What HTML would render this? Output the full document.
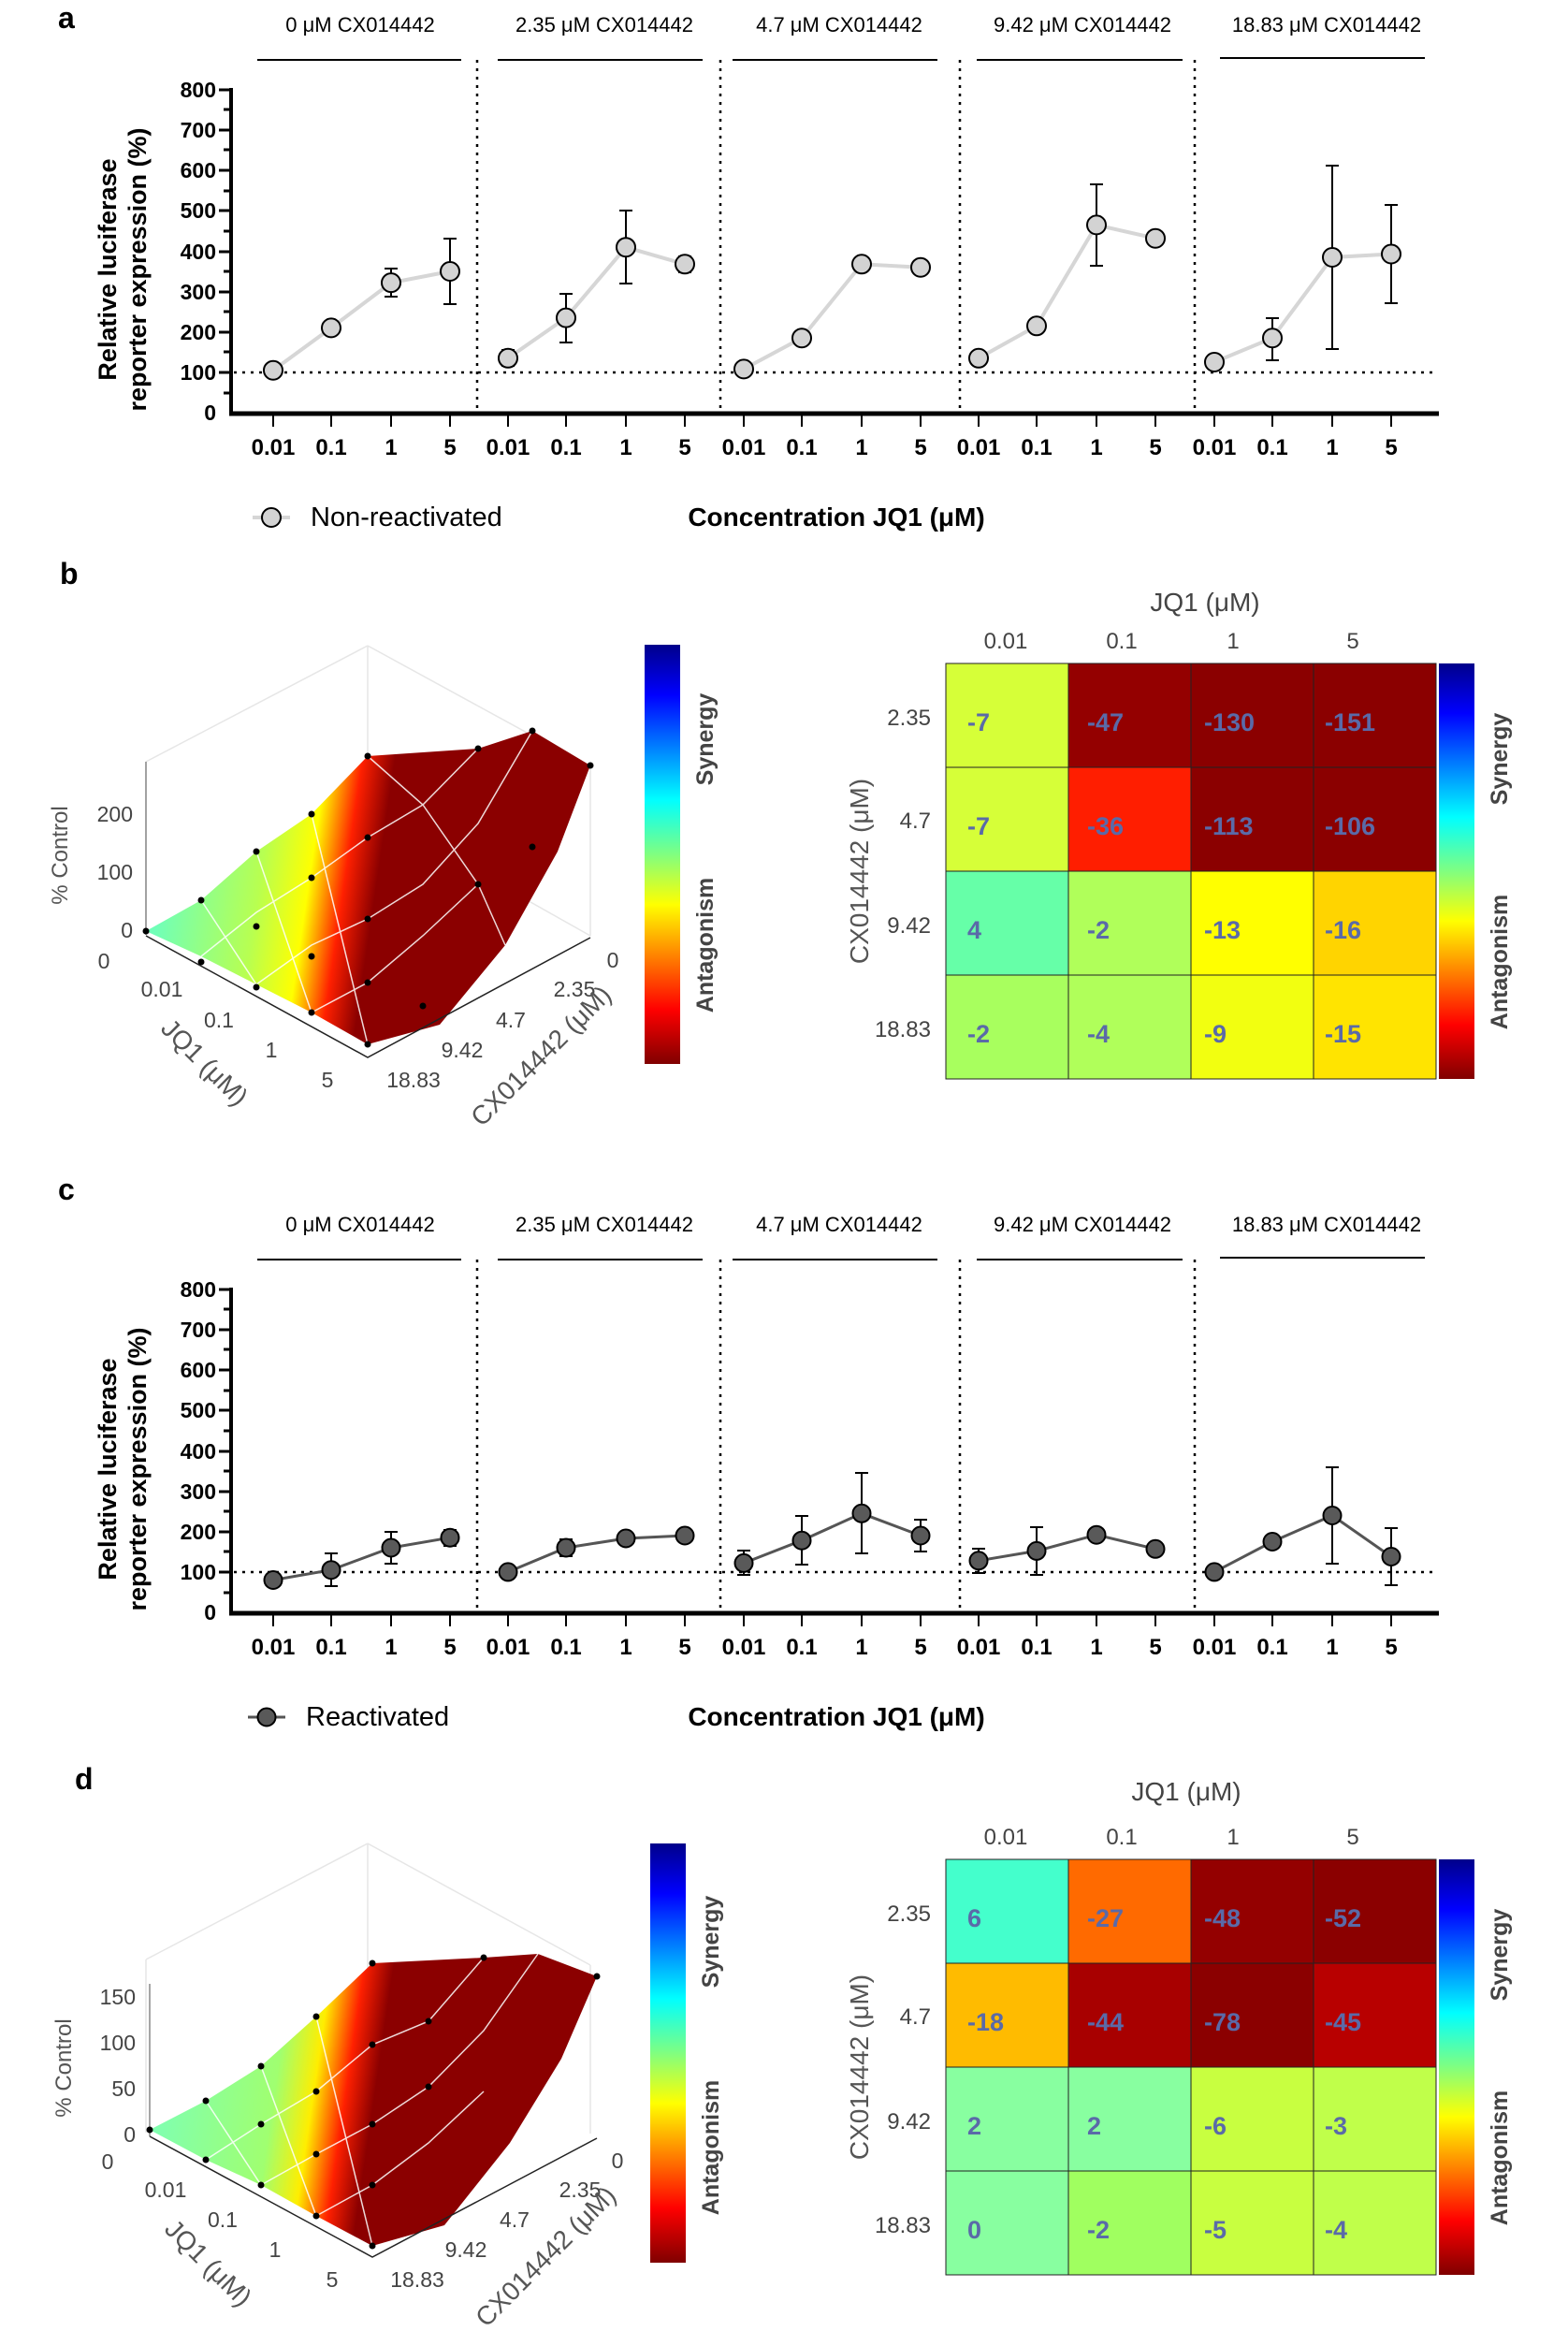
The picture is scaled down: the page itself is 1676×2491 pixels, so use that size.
<!DOCTYPE html>
<html><head><meta charset="utf-8"><style>
html,body{margin:0;padding:0;background:#fff}
svg{display:block}
text{font-family:"Liberation Sans",Arial,sans-serif}
.b{font-weight:bold}
</style></head><body>
<svg width="1676" height="2491" viewBox="0 0 1676 2491" xmlns="http://www.w3.org/2000/svg">
<defs>
<linearGradient id="jet" x1="0" y1="0" x2="0" y2="1">
<stop offset="0" stop-color="#00008b"/><stop offset="0.12" stop-color="#0000ff"/><stop offset="0.37" stop-color="#00ffff"/><stop offset="0.5" stop-color="#80ff80"/><stop offset="0.62" stop-color="#ffff00"/><stop offset="0.87" stop-color="#ff0000"/><stop offset="1" stop-color="#800000"/>
</linearGradient>
<linearGradient id="surfB" gradientUnits="userSpaceOnUse" x1="180" y1="900" x2="520" y2="950">
<stop offset="0" stop-color="#70ffb8"/><stop offset="0.3" stop-color="#b8ff50"/><stop offset="0.45" stop-color="#ffff00"/><stop offset="0.56" stop-color="#ff2000"/><stop offset="0.66" stop-color="#8b0000"/><stop offset="1" stop-color="#8b0000"/>
</linearGradient>
<linearGradient id="surfD" gradientUnits="userSpaceOnUse" x1="180" y1="900" x2="520" y2="950">
<stop offset="0" stop-color="#80ffb0"/><stop offset="0.35" stop-color="#a0ff70"/><stop offset="0.47" stop-color="#ffee00"/><stop offset="0.57" stop-color="#ff2000"/><stop offset="0.66" stop-color="#8b0000"/><stop offset="1" stop-color="#8b0000"/>
</linearGradient>
</defs>

<!-- ========== PANEL a ========== -->
<g id="pa">
<text x="62" y="30" font-size="32" class="b">a</text>
<g font-size="22" text-anchor="middle">
<text x="385" y="34">0 μM CX014442</text><text x="646" y="34">2.35 μM CX014442</text><text x="897" y="34">4.7 μM CX014442</text><text x="1157" y="34">9.42 μM CX014442</text><text x="1418" y="34">18.83 μM CX014442</text>
</g>
<g stroke="#000" stroke-width="2"><line x1="275" y1="64" x2="493" y2="64"/><line x1="532" y1="64" x2="751" y2="64"/><line x1="783" y1="64" x2="1002" y2="64"/><line x1="1044" y1="64" x2="1264" y2="64"/><line x1="1304" y1="62" x2="1523" y2="62"/></g>
<g stroke="#000" stroke-width="2.5" stroke-dasharray="3,6"><line x1="510" y1="64" x2="510" y2="440"/><line x1="770" y1="64" x2="770" y2="440"/><line x1="1026" y1="64" x2="1026" y2="440"/><line x1="1277" y1="64" x2="1277" y2="440"/><line x1="250" y1="398" x2="1536" y2="398"/></g>
<line x1="247" y1="94" x2="247" y2="443" stroke="#000" stroke-width="4"/>
<line x1="245" y1="442" x2="1538" y2="442" stroke="#000" stroke-width="5"/>
<g stroke="#000" stroke-width="3">
<line x1="234" y1="96" x2="247" y2="96"/><line x1="234" y1="139" x2="247" y2="139"/><line x1="234" y1="182" x2="247" y2="182"/><line x1="234" y1="225" x2="247" y2="225"/><line x1="234" y1="269" x2="247" y2="269"/><line x1="234" y1="312" x2="247" y2="312"/><line x1="234" y1="355" x2="247" y2="355"/><line x1="234" y1="398" x2="247" y2="398"/>
<line x1="239" y1="117" x2="247" y2="117"/><line x1="239" y1="160" x2="247" y2="160"/><line x1="239" y1="204" x2="247" y2="204"/><line x1="239" y1="247" x2="247" y2="247"/><line x1="239" y1="290" x2="247" y2="290"/><line x1="239" y1="333" x2="247" y2="333"/><line x1="239" y1="376" x2="247" y2="376"/><line x1="239" y1="420" x2="247" y2="420"/>
</g>
<g font-size="23" class="b" text-anchor="end">
<text x="231" y="104">800</text><text x="231" y="147">700</text><text x="231" y="190">600</text><text x="231" y="233">500</text><text x="231" y="277">400</text><text x="231" y="320">300</text><text x="231" y="363">200</text><text x="231" y="406">100</text><text x="231" y="449">0</text>
</g>
<g font-size="27" class="b" text-anchor="middle">
<text transform="translate(124,288) rotate(-90)">Relative luciferase</text>
<text transform="translate(156,288) rotate(-90)">reporter expression (%)</text>
</g>
<g stroke="#000" stroke-width="2">
<line x1="292" y1="444" x2="292" y2="456"/><line x1="354" y1="444" x2="354" y2="456"/><line x1="418" y1="444" x2="418" y2="456"/><line x1="481" y1="444" x2="481" y2="456"/>
<line x1="543" y1="444" x2="543" y2="456"/><line x1="605" y1="444" x2="605" y2="456"/><line x1="669" y1="444" x2="669" y2="456"/><line x1="732" y1="444" x2="732" y2="456"/>
<line x1="795" y1="444" x2="795" y2="456"/><line x1="857" y1="444" x2="857" y2="456"/><line x1="921" y1="444" x2="921" y2="456"/><line x1="984" y1="444" x2="984" y2="456"/>
<line x1="1046" y1="444" x2="1046" y2="456"/><line x1="1108" y1="444" x2="1108" y2="456"/><line x1="1172" y1="444" x2="1172" y2="456"/><line x1="1235" y1="444" x2="1235" y2="456"/>
<line x1="1298" y1="444" x2="1298" y2="456"/><line x1="1360" y1="444" x2="1360" y2="456"/><line x1="1424" y1="444" x2="1424" y2="456"/><line x1="1487" y1="444" x2="1487" y2="456"/>
</g>
<g font-size="24" class="b" text-anchor="middle">
<text x="292" y="486">0.01</text><text x="354" y="486">0.1</text><text x="418" y="486">1</text><text x="481" y="486">5</text>
<text x="543" y="486">0.01</text><text x="605" y="486">0.1</text><text x="669" y="486">1</text><text x="732" y="486">5</text>
<text x="795" y="486">0.01</text><text x="857" y="486">0.1</text><text x="921" y="486">1</text><text x="984" y="486">5</text>
<text x="1046" y="486">0.01</text><text x="1108" y="486">0.1</text><text x="1172" y="486">1</text><text x="1235" y="486">5</text>
<text x="1298" y="486">0.01</text><text x="1360" y="486">0.1</text><text x="1424" y="486">1</text><text x="1487" y="486">5</text>
</g>
<g fill="none" stroke="#d6d6d6" stroke-width="4">
<polyline points="292,395.7 354,350.4 418,302.1 481,290"/>
<polyline points="543,382.8 605,339.6 669,264.2 732,282.3"/>
<polyline points="795,394.4 857,361.2 921,282.3 984,285.7"/>
<polyline points="1046,382.8 1108,348.3 1172,240.4 1235,254.7"/>
<polyline points="1298,387 1360,361.2 1424,275 1487,271.5"/>
</g>
<g stroke="#000" stroke-width="2">
<path d="M418 317V287M411 317h14M411 287h14"/>
<path d="M481 325V255M474 325h14M474 255h14"/>
<path d="M543 391V374M536 391h14M536 374h14"/>
<path d="M605 366V314M598 366h14M598 314h14"/>
<path d="M669 303V225M662 303h14M662 225h14"/>
<path d="M732 291V274M725 291h14M725 274h14"/>
<path d="M1172 284V197M1165 284h14M1165 197h14"/>
<path d="M1360 385V340M1353 385h14M1353 340h14"/>
<path d="M1424 373V177M1417 373h14M1417 177h14"/>
<path d="M1487 324V219M1480 324h14M1480 219h14"/>
</g>
<g fill="#d3d3d3" stroke="#000" stroke-width="2">
<circle cx="292" cy="395.7" r="10"/><circle cx="354" cy="350.4" r="10"/><circle cx="418" cy="302.1" r="10"/><circle cx="481" cy="290" r="10"/>
<circle cx="543" cy="382.8" r="10"/><circle cx="605" cy="339.6" r="10"/><circle cx="669" cy="264.2" r="10"/><circle cx="732" cy="282.3" r="10"/>
<circle cx="795" cy="394.4" r="10"/><circle cx="857" cy="361.2" r="10"/><circle cx="921" cy="282.3" r="10"/><circle cx="984" cy="285.7" r="10"/>
<circle cx="1046" cy="382.8" r="10"/><circle cx="1108" cy="348.3" r="10"/><circle cx="1172" cy="240.4" r="10"/><circle cx="1235" cy="254.7" r="10"/>
<circle cx="1298" cy="387" r="10"/><circle cx="1360" cy="361.2" r="10"/><circle cx="1424" cy="275" r="10"/><circle cx="1487" cy="271.5" r="10"/>
</g>
<line x1="270" y1="553" x2="310" y2="553" stroke="#d6d6d6" stroke-width="4"/>
<circle cx="290" cy="553" r="10" fill="#d3d3d3" stroke="#000" stroke-width="2"/>
<text x="332" y="562" font-size="29">Non-reactivated</text>
<text x="894" y="562" font-size="28" class="b" text-anchor="middle">Concentration JQ1 (μM)</text>
</g>

<!-- ========== PANEL c ========== -->
<g transform="translate(0,1282)">
<text x="62" y="0" font-size="32" class="b">c</text>
<g font-size="22" text-anchor="middle">
<text x="385" y="34">0 μM CX014442</text><text x="646" y="34">2.35 μM CX014442</text><text x="897" y="34">4.7 μM CX014442</text><text x="1157" y="34">9.42 μM CX014442</text><text x="1418" y="34">18.83 μM CX014442</text>
</g>
<g stroke="#000" stroke-width="2"><line x1="275" y1="64" x2="493" y2="64"/><line x1="532" y1="64" x2="751" y2="64"/><line x1="783" y1="64" x2="1002" y2="64"/><line x1="1044" y1="64" x2="1264" y2="64"/><line x1="1304" y1="62" x2="1523" y2="62"/></g>
<g stroke="#000" stroke-width="2.5" stroke-dasharray="3,6"><line x1="510" y1="64" x2="510" y2="440"/><line x1="770" y1="64" x2="770" y2="440"/><line x1="1026" y1="64" x2="1026" y2="440"/><line x1="1277" y1="64" x2="1277" y2="440"/><line x1="250" y1="398" x2="1536" y2="398"/></g>
<line x1="247" y1="94" x2="247" y2="443" stroke="#000" stroke-width="4"/>
<line x1="245" y1="442" x2="1538" y2="442" stroke="#000" stroke-width="5"/>
<g stroke="#000" stroke-width="3">
<line x1="234" y1="96" x2="247" y2="96"/><line x1="234" y1="139" x2="247" y2="139"/><line x1="234" y1="182" x2="247" y2="182"/><line x1="234" y1="225" x2="247" y2="225"/><line x1="234" y1="269" x2="247" y2="269"/><line x1="234" y1="312" x2="247" y2="312"/><line x1="234" y1="355" x2="247" y2="355"/><line x1="234" y1="398" x2="247" y2="398"/>
<line x1="239" y1="117" x2="247" y2="117"/><line x1="239" y1="160" x2="247" y2="160"/><line x1="239" y1="204" x2="247" y2="204"/><line x1="239" y1="247" x2="247" y2="247"/><line x1="239" y1="290" x2="247" y2="290"/><line x1="239" y1="333" x2="247" y2="333"/><line x1="239" y1="376" x2="247" y2="376"/><line x1="239" y1="420" x2="247" y2="420"/>
</g>
<g font-size="23" class="b" text-anchor="end">
<text x="231" y="104">800</text><text x="231" y="147">700</text><text x="231" y="190">600</text><text x="231" y="233">500</text><text x="231" y="277">400</text><text x="231" y="320">300</text><text x="231" y="363">200</text><text x="231" y="406">100</text><text x="231" y="449">0</text>
</g>
<g font-size="27" class="b" text-anchor="middle">
<text transform="translate(124,288) rotate(-90)">Relative luciferase</text>
<text transform="translate(156,288) rotate(-90)">reporter expression (%)</text>
</g>
<g stroke="#000" stroke-width="2">
<line x1="292" y1="444" x2="292" y2="456"/><line x1="354" y1="444" x2="354" y2="456"/><line x1="418" y1="444" x2="418" y2="456"/><line x1="481" y1="444" x2="481" y2="456"/>
<line x1="543" y1="444" x2="543" y2="456"/><line x1="605" y1="444" x2="605" y2="456"/><line x1="669" y1="444" x2="669" y2="456"/><line x1="732" y1="444" x2="732" y2="456"/>
<line x1="795" y1="444" x2="795" y2="456"/><line x1="857" y1="444" x2="857" y2="456"/><line x1="921" y1="444" x2="921" y2="456"/><line x1="984" y1="444" x2="984" y2="456"/>
<line x1="1046" y1="444" x2="1046" y2="456"/><line x1="1108" y1="444" x2="1108" y2="456"/><line x1="1172" y1="444" x2="1172" y2="456"/><line x1="1235" y1="444" x2="1235" y2="456"/>
<line x1="1298" y1="444" x2="1298" y2="456"/><line x1="1360" y1="444" x2="1360" y2="456"/><line x1="1424" y1="444" x2="1424" y2="456"/><line x1="1487" y1="444" x2="1487" y2="456"/>
</g>
<g font-size="24" class="b" text-anchor="middle">
<text x="292" y="486">0.01</text><text x="354" y="486">0.1</text><text x="418" y="486">1</text><text x="481" y="486">5</text>
<text x="543" y="486">0.01</text><text x="605" y="486">0.1</text><text x="669" y="486">1</text><text x="732" y="486">5</text>
<text x="795" y="486">0.01</text><text x="857" y="486">0.1</text><text x="921" y="486">1</text><text x="984" y="486">5</text>
<text x="1046" y="486">0.01</text><text x="1108" y="486">0.1</text><text x="1172" y="486">1</text><text x="1235" y="486">5</text>
<text x="1298" y="486">0.01</text><text x="1360" y="486">0.1</text><text x="1424" y="486">1</text><text x="1487" y="486">5</text>
</g>
<g fill="none" stroke="#555" stroke-width="3">
<polyline points="292,406.5 354,395.7 418,372 481,361.2"/>
<polyline points="543,397.9 605,372 669,362 732,359"/>
<polyline points="795,388.4 857,364.2 921,335.3 984,359"/>
<polyline points="1046,385.8 1108,375.4 1172,358.2 1235,373.3"/>
<polyline points="1298,397.9 1360,365.5 1424,337.5 1487,381.5"/>
</g>
<g stroke="#000" stroke-width="2">
<path d="M354 413V378M347 413h14M347 378h14"/>
<path d="M418 389V355M411 389h14M411 355h14"/>
<path d="M481 370V353M474 370h14M474 353h14"/>
<path d="M605 381V363M598 381h14M598 363h14"/>
<path d="M795 401V375M788 401h14M788 375h14"/>
<path d="M857 390V338M850 390h14M850 338h14"/>
<path d="M921 378V292M914 378h14M914 292h14"/>
<path d="M984 376V342M977 376h14M977 342h14"/>
<path d="M1046 399V373M1039 399h14M1039 373h14"/>
<path d="M1108 401V350M1101 401h14M1101 350h14"/>
<path d="M1424 389V286M1417 389h14M1417 286h14"/>
<path d="M1487 412V351M1480 412h14M1480 351h14"/>
</g>
<g fill="#595959" stroke="#000" stroke-width="2">
<circle cx="292" cy="406.5" r="9.5"/><circle cx="354" cy="395.7" r="9.5"/><circle cx="418" cy="372" r="9.5"/><circle cx="481" cy="361.2" r="9.5"/>
<circle cx="543" cy="397.9" r="9.5"/><circle cx="605" cy="372" r="9.5"/><circle cx="669" cy="362" r="9.5"/><circle cx="732" cy="359" r="9.5"/>
<circle cx="795" cy="388.4" r="9.5"/><circle cx="857" cy="364.2" r="9.5"/><circle cx="921" cy="335.3" r="9.5"/><circle cx="984" cy="359" r="9.5"/>
<circle cx="1046" cy="385.8" r="9.5"/><circle cx="1108" cy="375.4" r="9.5"/><circle cx="1172" cy="358.2" r="9.5"/><circle cx="1235" cy="373.3" r="9.5"/>
<circle cx="1298" cy="397.9" r="9.5"/><circle cx="1360" cy="365.5" r="9.5"/><circle cx="1424" cy="337.5" r="9.5"/><circle cx="1487" cy="381.5" r="9.5"/>
</g>
<line x1="265" y1="553" x2="305" y2="553" stroke="#555" stroke-width="3"/>
<circle cx="285" cy="553" r="9.5" fill="#595959" stroke="#000" stroke-width="2"/>
<text x="327" y="562" font-size="29">Reactivated</text>
<text x="894" y="562" font-size="28" class="b" text-anchor="middle">Concentration JQ1 (μM)</text>
</g>

<!-- ========== PANEL b ========== -->
<g id="pb">
<text x="64" y="624" font-size="32" class="b">b</text>
<g stroke="#e6e6e6" stroke-width="1.5" fill="none">
<line x1="156" y1="999" x2="156" y2="814"/><line x1="393" y1="866" x2="393" y2="690"/><line x1="631" y1="1000" x2="631" y2="820"/>
<line x1="156" y1="814" x2="393" y2="690"/><line x1="393" y1="690" x2="631" y2="820"/>
<line x1="156" y1="999" x2="393" y2="866"/><line x1="393" y1="866" x2="631" y2="1000"/>
</g>
<line x1="156" y1="999" x2="156" y2="814" stroke="#888" stroke-width="1.5"/>
<polygon points="156,995 215,962 274,910 333,870 393,808 511,800 569,781 631,818 596,910 540,1010 470,1095 393,1116 333,1082 274,1052 215,1022" fill="url(#surfB)"/>
<g stroke="#fff" stroke-width="1.5" fill="none" opacity="0.85">
<polyline points="215,1022 274,975 333,938 393,895 452,860 511,800"/>
<polyline points="274,1052 333,1010 393,982 452,945 511,880 569,781"/>
<polyline points="333,1082 393,1050 452,1000 511,945"/>
<polyline points="215,962 274,1052"/><polyline points="274,910 333,1082"/><polyline points="333,870 393,1116"/>
<polyline points="393,808 452,860 511,945 540,1010"/>
</g>
<g fill="#000">
<circle cx="156" cy="995" r="3.5"/><circle cx="215" cy="962" r="3.5"/><circle cx="274" cy="910" r="3.5"/><circle cx="333" cy="870" r="3.5"/><circle cx="393" cy="808" r="3.5"/>
<circle cx="511" cy="800" r="3.5"/><circle cx="569" cy="781" r="3.5"/><circle cx="631" cy="818" r="3.5"/><circle cx="569" cy="905" r="3.5"/><circle cx="511" cy="945" r="3.5"/>
<circle cx="215" cy="1028" r="3.5"/><circle cx="274" cy="1055" r="3.5"/><circle cx="333" cy="1082" r="3.5"/><circle cx="393" cy="1116" r="3.5"/>
<circle cx="274" cy="990" r="3.5"/><circle cx="333" cy="938" r="3.5"/><circle cx="393" cy="895" r="3.5"/><circle cx="333" cy="1022" r="3.5"/><circle cx="393" cy="982" r="3.5"/><circle cx="393" cy="1050" r="3.5"/><circle cx="452" cy="1075" r="3.5"/>
</g>
<g stroke="#222" stroke-width="1.5" fill="none"><polyline points="156,1000 393,1130 631,1002"/></g>
<g font-size="23" fill="#444">
<text x="142" y="878" text-anchor="end">200</text><text x="142" y="940" text-anchor="end">100</text><text x="142" y="1002" text-anchor="end">0</text>
<text x="111" y="1035" text-anchor="middle">0</text><text x="173" y="1065" text-anchor="middle">0.01</text><text x="234" y="1098" text-anchor="middle">0.1</text><text x="290" y="1130" text-anchor="middle">1</text><text x="350" y="1162" text-anchor="middle">5</text>
<text x="655" y="1034" text-anchor="middle">0</text><text x="614" y="1065" text-anchor="middle">2.35</text><text x="546" y="1098" text-anchor="middle">4.7</text><text x="494" y="1130" text-anchor="middle">9.42</text><text x="442" y="1162" text-anchor="middle">18.83</text>
</g>
<text transform="translate(72,914) rotate(-90)" font-size="24" fill="#555" text-anchor="middle">% Control</text>
<text transform="translate(212,1142) rotate(45)" font-size="28" fill="#555" text-anchor="middle">JQ1 (μM)</text>
<text transform="translate(585,1135) rotate(-45)" font-size="28" fill="#555" text-anchor="middle">CX014442 (μM)</text>
<rect x="689" y="689" width="38" height="448" fill="url(#jet)"/>
<text transform="translate(762,790) rotate(-90)" font-size="25" class="b" fill="#444" text-anchor="middle">Synergy</text>
<text transform="translate(762,1010) rotate(-90)" font-size="25" class="b" fill="#444" text-anchor="middle">Antagonism</text>
<g transform="translate(-6,-4)">
<text x="1294" y="657" font-size="28" fill="#444" text-anchor="middle">JQ1 (μM)</text>
<g font-size="24" fill="#444" text-anchor="middle"><text x="1081" y="697">0.01</text><text x="1205" y="697">0.1</text><text x="1324" y="697">1</text><text x="1452" y="697">5</text></g>
<g font-size="24" fill="#444" text-anchor="end"><text x="1001" y="779">2.35</text><text x="1001" y="889">4.7</text><text x="1001" y="1001">9.42</text><text x="1001" y="1112">18.83</text></g>
<text transform="translate(934,935) rotate(-90)" font-size="28" fill="#555" text-anchor="middle">CX014442 (μM)</text>
<g stroke="#222" stroke-width="1">
<rect x="1017" y="713" width="131" height="111" fill="#d6ff38"/><rect x="1148" y="713" width="131" height="111" fill="#940000"/><rect x="1279" y="713" width="131" height="111" fill="#8b0000"/><rect x="1410" y="713" width="131" height="111" fill="#8b0000"/>
<rect x="1017" y="824" width="131" height="111" fill="#d6ff38"/><rect x="1148" y="824" width="131" height="111" fill="#ff1e00"/><rect x="1279" y="824" width="131" height="111" fill="#8b0000"/><rect x="1410" y="824" width="131" height="111" fill="#8b0000"/>
<rect x="1017" y="935" width="131" height="111" fill="#66ffa8"/><rect x="1148" y="935" width="131" height="111" fill="#b0ff5a"/><rect x="1279" y="935" width="131" height="111" fill="#ffff00"/><rect x="1410" y="935" width="131" height="111" fill="#ffd400"/>
<rect x="1017" y="1046" width="131" height="111" fill="#a8ff5e"/><rect x="1148" y="1046" width="131" height="111" fill="#b0ff5a"/><rect x="1279" y="1046" width="131" height="111" fill="#f2ff10"/><rect x="1410" y="1046" width="131" height="111" fill="#ffe400"/>
</g>
<g font-size="27" fill="#5a6aa8" class="b">
<text x="1040" y="785">-7</text><text x="1168" y="785">-47</text><text x="1293" y="785">-130</text><text x="1422" y="785">-151</text>
<text x="1040" y="896">-7</text><text x="1168" y="896">-36</text><text x="1293" y="896">-113</text><text x="1422" y="896">-106</text>
<text x="1040" y="1007">4</text><text x="1168" y="1007">-2</text><text x="1293" y="1007">-13</text><text x="1422" y="1007">-16</text>
<text x="1040" y="1118">-2</text><text x="1168" y="1118">-4</text><text x="1293" y="1118">-9</text><text x="1422" y="1118">-15</text>
</g>
<rect x="1544" y="713" width="38" height="444" fill="url(#jet)"/>
<text transform="translate(1617,815) rotate(-90)" font-size="25" class="b" fill="#444" text-anchor="middle">Synergy</text>
<text transform="translate(1617,1032) rotate(-90)" font-size="25" class="b" fill="#444" text-anchor="middle">Antagonism</text>
</g>
</g>

<!-- ========== PANEL d ========== -->
<g transform="translate(0,1280)">
<text x="80" y="632" font-size="32" class="b">d</text>
<g stroke="#e6e6e6" stroke-width="1.5" fill="none">
<line x1="156" y1="999" x2="156" y2="814"/><line x1="393" y1="866" x2="393" y2="690"/><line x1="631" y1="1000" x2="631" y2="820"/>
<line x1="156" y1="814" x2="393" y2="690"/><line x1="393" y1="690" x2="631" y2="820"/>
</g>
<line x1="160" y1="1003" x2="160" y2="840" stroke="#888" stroke-width="1.5"/>
<polygon points="160,996 220,965 279,928 338,875 398,818 517,812 575,808 638,832 600,920 545,1010 475,1098 398,1120 338,1088 279,1055 220,1028" fill="url(#surfD)"/>
<g stroke="#fff" stroke-width="1.5" fill="none" opacity="0.85">
<polyline points="220,1028 279,990 338,955 398,905 458,880 517,812"/>
<polyline points="279,1055 338,1022 398,990 458,950 517,890 575,808"/>
<polyline points="338,1088 398,1055 458,1010 517,955"/>
<polyline points="220,965 279,1055"/><polyline points="279,928 338,1088"/><polyline points="338,875 398,1120"/>
</g>
<g fill="#000">
<circle cx="160" cy="996" r="3.5"/><circle cx="220" cy="965" r="3.5"/><circle cx="279" cy="928" r="3.5"/><circle cx="338" cy="875" r="3.5"/><circle cx="398" cy="818" r="3.5"/>
<circle cx="517" cy="812" r="3.5"/><circle cx="638" cy="832" r="3.5"/><circle cx="458" cy="880" r="3.5"/><circle cx="458" cy="950" r="3.5"/>
<circle cx="220" cy="1028" r="3.5"/><circle cx="279" cy="1055" r="3.5"/><circle cx="338" cy="1088" r="3.5"/><circle cx="398" cy="1120" r="3.5"/>
<circle cx="279" cy="990" r="3.5"/><circle cx="338" cy="955" r="3.5"/><circle cx="398" cy="905" r="3.5"/><circle cx="338" cy="1022" r="3.5"/><circle cx="398" cy="990" r="3.5"/><circle cx="398" cy="1055" r="3.5"/>
</g>
<g stroke="#222" stroke-width="1.5" fill="none"><polyline points="160,1003 398,1132 638,1005"/></g>
<g font-size="23" fill="#444">
<text x="145" y="862" text-anchor="end">150</text><text x="145" y="911" text-anchor="end">100</text><text x="145" y="960" text-anchor="end">50</text><text x="145" y="1009" text-anchor="end">0</text>
<text x="115" y="1038" text-anchor="middle">0</text><text x="177" y="1068" text-anchor="middle">0.01</text><text x="238" y="1100" text-anchor="middle">0.1</text><text x="294" y="1132" text-anchor="middle">1</text><text x="355" y="1164" text-anchor="middle">5</text>
<text x="660" y="1037" text-anchor="middle">0</text><text x="620" y="1068" text-anchor="middle">2.35</text><text x="550" y="1100" text-anchor="middle">4.7</text><text x="498" y="1132" text-anchor="middle">9.42</text><text x="446" y="1164" text-anchor="middle">18.83</text>
</g>
<text transform="translate(76,930) rotate(-90)" font-size="24" fill="#555" text-anchor="middle">% Control</text>
<text transform="translate(216,1145) rotate(45)" font-size="28" fill="#555" text-anchor="middle">JQ1 (μM)</text>
<text transform="translate(590,1138) rotate(-45)" font-size="28" fill="#555" text-anchor="middle">CX014442 (μM)</text>
<rect x="695" y="690" width="38" height="448" fill="url(#jet)"/>
<text transform="translate(768,795) rotate(-90)" font-size="25" class="b" fill="#444" text-anchor="middle">Synergy</text>
<text transform="translate(768,1015) rotate(-90)" font-size="25" class="b" fill="#444" text-anchor="middle">Antagonism</text>
<g transform="translate(-6,-6)">
<text x="1274" y="650" font-size="28" fill="#444" text-anchor="middle">JQ1 (μM)</text>
<g font-size="24" fill="#444" text-anchor="middle"><text x="1081" y="697">0.01</text><text x="1205" y="697">0.1</text><text x="1324" y="697">1</text><text x="1452" y="697">5</text></g>
<g font-size="24" fill="#444" text-anchor="end"><text x="1001" y="779">2.35</text><text x="1001" y="889">4.7</text><text x="1001" y="1001">9.42</text><text x="1001" y="1112">18.83</text></g>
<text transform="translate(934,935) rotate(-90)" font-size="28" fill="#555" text-anchor="middle">CX014442 (μM)</text>
<g stroke="#222" stroke-width="1">
<rect x="1017" y="713" width="131" height="111" fill="#44ffcc"/><rect x="1148" y="713" width="131" height="111" fill="#ff6a00"/><rect x="1279" y="713" width="131" height="111" fill="#940000"/><rect x="1410" y="713" width="131" height="111" fill="#8b0000"/>
<rect x="1017" y="824" width="131" height="111" fill="#ffbb00"/><rect x="1148" y="824" width="131" height="111" fill="#a80000"/><rect x="1279" y="824" width="131" height="111" fill="#8b0000"/><rect x="1410" y="824" width="131" height="111" fill="#b80000"/>
<rect x="1017" y="935" width="131" height="111" fill="#88ffa0"/><rect x="1148" y="935" width="131" height="111" fill="#88ffa0"/><rect x="1279" y="935" width="131" height="111" fill="#c8ff40"/><rect x="1410" y="935" width="131" height="111" fill="#c0ff4a"/>
<rect x="1017" y="1046" width="131" height="111" fill="#88ffa0"/><rect x="1148" y="1046" width="131" height="111" fill="#a0ff60"/><rect x="1279" y="1046" width="131" height="111" fill="#c8ff40"/><rect x="1410" y="1046" width="131" height="111" fill="#c0ff4a"/>
</g>
<g font-size="27" fill="#5a6aa8" class="b">
<text x="1040" y="785">6</text><text x="1168" y="785">-27</text><text x="1293" y="785">-48</text><text x="1422" y="785">-52</text>
<text x="1040" y="896">-18</text><text x="1168" y="896">-44</text><text x="1293" y="896">-78</text><text x="1422" y="896">-45</text>
<text x="1040" y="1007">2</text><text x="1168" y="1007">2</text><text x="1293" y="1007">-6</text><text x="1422" y="1007">-3</text>
<text x="1040" y="1118">0</text><text x="1168" y="1118">-2</text><text x="1293" y="1118">-5</text><text x="1422" y="1118">-4</text>
</g>
<rect x="1544" y="713" width="38" height="444" fill="url(#jet)"/>
<text transform="translate(1617,815) rotate(-90)" font-size="25" class="b" fill="#444" text-anchor="middle">Synergy</text>
<text transform="translate(1617,1032) rotate(-90)" font-size="25" class="b" fill="#444" text-anchor="middle">Antagonism</text>
</g>
</g>
</svg>
</body></html>
